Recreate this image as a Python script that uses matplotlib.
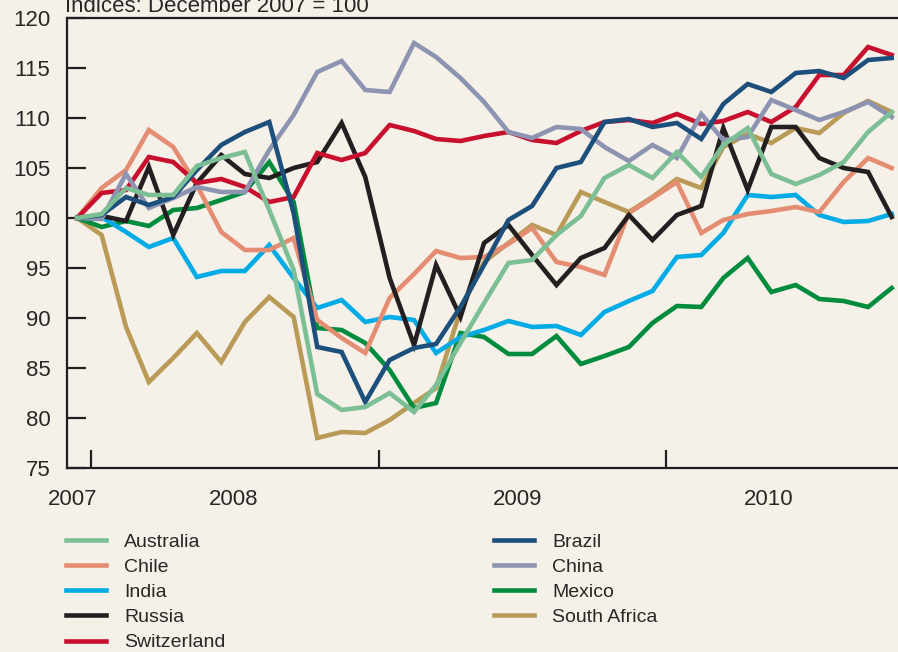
import datetime as dt
import matplotlib
matplotlib.use('Agg')
import matplotlib.pyplot as plt

plt.rcParams['font.family'] = ['Liberation Sans', 'DejaVu Sans']

# monthly observations, Dec 2007 .. Oct 2010 (mid-month)
months = [dt.date(2007 + (11 + i) // 12, (11 + i) % 12 + 1, 15) for i in range(35)]

australia = [100, 100.4, 103.0, 102.3, 102.3, 105.2, 106.0, 106.6, 100.8, 94.8,
             82.4, 80.8, 81.1, 82.5, 80.6, 83.3, 87.5, 91.5, 95.5, 95.8,
             98.3, 100.2, 104.0, 105.3, 104.0, 106.6, 104.1, 107.3, 109.0, 104.4,
             103.4, 104.3, 105.6, 108.6, 110.6]
chile = [100, 103.0, 104.8, 108.8, 107.1, 103.3, 98.6, 96.8, 96.8, 98.0,
         89.8, 88.0, 86.5, 92.0, 94.4, 96.7, 96.0, 96.1, 97.4, 99.0,
         95.6, 95.1, 94.3, 100.5, 102.0, 103.6, 98.5, 99.8, 100.4, 100.7,
         101.1, 100.6, 103.6, 106.0, 105.0]
india = [100, 100.1, 98.6, 97.1, 98.0, 94.1, 94.7, 94.7, 97.3, 94.0,
         91.0, 91.8, 89.6, 90.1, 89.8, 86.5, 88.1, 88.8, 89.7, 89.1,
         89.2, 88.3, 90.6, 91.7, 92.7, 96.1, 96.3, 98.5, 102.3, 102.1,
         102.3, 100.3, 99.6, 99.7, 100.4]
russia = [100, 100.2, 99.7, 105.1, 98.3, 103.5, 106.3, 104.4, 104.0, 105.0,
          105.6, 109.5, 104.1, 94.0, 87.3, 95.3, 90.1, 97.5, 99.3, 96.3,
          93.3, 96.0, 97.0, 100.3, 97.8, 100.3, 101.2, 109.0, 102.8, 109.1,
          109.1, 106.0, 105.0, 104.6, 100.1]
switzerland = [100, 102.5, 102.8, 106.1, 105.6, 103.5, 103.9, 103.1, 101.6, 102.1,
               106.5, 105.8, 106.5, 109.3, 108.7, 107.9, 107.7, 108.2, 108.6, 107.8,
               107.5, 108.7, 109.6, 109.8, 109.5, 110.4, 109.4, 109.7, 110.6, 109.6,
               111.1, 114.3, 114.3, 117.1, 116.3]
brazil = [100, 100.3, 102.1, 101.3, 102.1, 104.8, 107.3, 108.6, 109.6, 100.5,
          87.1, 86.6, 81.6, 85.8, 87.0, 87.4, 91.1, 95.3, 99.8, 101.2,
          105.0, 105.6, 109.6, 109.9, 109.1, 109.5, 107.9, 111.4, 113.4, 112.6,
          114.5, 114.7, 114.0, 115.8, 116.0]
china = [100, 99.9, 104.4, 101.0, 102.0, 103.1, 102.6, 102.6, 106.8, 110.3,
         114.6, 115.7, 112.8, 112.6, 117.5, 116.1, 114.0, 111.6, 108.6, 108.0,
         109.1, 108.9, 107.1, 105.7, 107.3, 106.0, 110.4, 107.8, 108.1, 111.8,
         110.8, 109.8, 110.6, 111.6, 110.1]
mexico = [100, 99.1, 99.7, 99.2, 100.8, 101.0, 101.8, 102.6, 105.6, 101.6,
          89.0, 88.8, 87.5, 84.8, 81.0, 81.5, 88.5, 88.1, 86.4, 86.4,
          88.2, 85.4, 86.2, 87.1, 89.5, 91.2, 91.1, 94.0, 96.0, 92.6,
          93.3, 91.9, 91.7, 91.1, 93.0]
south_africa = [100, 98.3, 89.1, 83.6, 86.0, 88.5, 85.6, 89.6, 92.1, 90.1,
                78.0, 78.6, 78.5, 79.8, 81.5, 83.0, 90.8, 95.6, 97.5, 99.3,
                98.3, 102.6, 101.6, 100.6, 102.1, 103.9, 103.0, 107.1, 108.4, 107.5,
                109.0, 108.5, 110.5, 111.7, 110.6]

series = [
    ('Australia', australia, '#7dbf95'),
    ('Chile', chile, '#e48d72'),
    ('India', india, '#00abe6'),
    ('Russia', russia, '#231f20'),
    ('Switzerland', switzerland, '#c8102e'),
    ('Brazil', brazil, '#1c4f7b'),
    ('China', china, '#8d94b2'),
    ('Mexico', mexico, '#008c3e'),
    ('South Africa', south_africa, '#b99a57'),
]
draw_order = ['South Africa', 'Mexico', 'India', 'Chile', 'Russia',
              'Switzerland', 'China', 'Brazil', 'Australia']

year_ticks = [dt.date(2008, 1, 1), dt.date(2009, 1, 1), dt.date(2010, 1, 1)]
year_labels = ['2007', '2008', '2009', '2010']
year_label_pos = [dt.date(2007, 12, 9), dt.date(2008, 7, 1), dt.date(2009, 6, 27), dt.date(2010, 5, 12)]

bg = '#f5f1e8'
ink = '#231f20'
txt = '#2a2627'

fig = plt.figure(figsize=(8.98, 6.52), dpi=100, facecolor=bg)
ax = fig.add_axes([67 / 898, 1 - 468 / 652, 1 - 67 / 898, 450 / 652])
ax.set_facecolor(bg)

handles = {}
for z, name in enumerate(draw_order):
    _, vals, col = [s for s in series if s[0] == name][0]
    line, = ax.plot(months, vals, color=col, lw=3.3, label=name,
                    solid_joinstyle='miter', zorder=2 + z)
    handles[name] = line

ax.set_ylim(75, 120)
ax.set_yticks(range(75, 121, 5))
ax.set_xlim(dt.date(2007, 12, 2), dt.date(2010, 10, 23))
ax.set_xticks(year_ticks)
ax.set_xticklabels([])
ax.set_xticks(year_label_pos, minor=True)
ax.set_xticklabels(year_labels, minor=True)

ax.tick_params(axis='y', direction='in', length=14, width=1.6, color=ink,
               labelsize=16, labelcolor=txt, pad=12)
ax.tick_params(axis='x', which='major', direction='in', length=13, width=1.6, color=ink)
ax.tick_params(axis='x', which='minor', length=0, labelsize=16, labelcolor=txt, pad=15)

for side in ['left', 'bottom', 'top']:
    ax.spines[side].set_linewidth(1.6)
    ax.spines[side].set_color(ink)
ax.spines['right'].set_visible(False)

fig.text(65 / 898, 1 - 12.5 / 652, 'Indices: December 2007 = 100',
         fontsize=16, color=txt, va='baseline', ha='left')

fig.legend([handles[s[0]] for s in series], [s[0] for s in series],
           ncol=2, loc='upper left', bbox_to_anchor=(66 / 898, 1 - 533 / 652),
           frameon=False, fontsize=14, handlelength=2.06, handletextpad=0.93,
           columnspacing=13.8, labelspacing=0.39, borderpad=0, borderaxespad=0,
           labelcolor=txt)

fig.savefig('out.png', dpi=100, facecolor=bg)
